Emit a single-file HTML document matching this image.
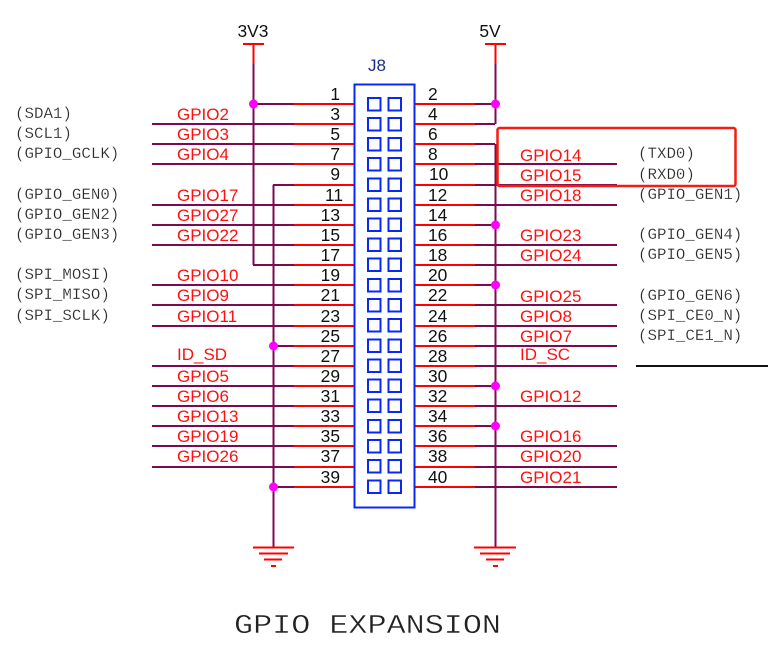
<!DOCTYPE html>
<html><head><meta charset="utf-8"><style>
html,body{margin:0;padding:0;background:#fff}
svg{display:block}
.g{font:17px "Liberation Sans",sans-serif;fill:#ff1010}
.n{font:17.4px "Liberation Sans",sans-serif;fill:#111}
.m{font:15.8px "Liberation Mono",monospace;fill:#2a2a2a;stroke:#fff;stroke-width:.2px}
.e{text-anchor:end}
</style></head><body>
<svg width="768" height="652" viewBox="0 0 768 652" xmlns="http://www.w3.org/2000/svg">
<rect width="768" height="652" fill="#fff"/>
<g fill="none" stroke-width="2">
<!-- red stubs -->
<path stroke="#ff0000" d="M294 104H354M294 124H354M294 144H354M294 164H354M294 185H354M294 205H354M294 225H354M294 245H354M294 265H354M294 285H354M294 305H354M294 326H354M294 346H354M294 366H354M294 386H354M294 406H354M294 426H354M294 446H354M294 467H354M294 487H354"/>
<path stroke="#ff0000" d="M414 104H475M414 124H475M414 144H475M414 164H475M414 185H475M414 205H475M414 225H475M414 245H475M414 265H475M414 285H475M414 305H475M414 326H475M414 346H475M414 366H475M414 386H475M414 406H475M414 426H475M414 446H475M414 467H475M414 487H475"/>
<!-- maroon wires -->
<path stroke="#7c0a50" d="M152 124H294M152 144H294M152 164H294M152 205H294M152 225H294M152 245H294M152 285H294M152 305H294M152 326H294M152 366H294M152 386H294M152 406H294M152 426H294M152 446H294M152 467H294"/>
<path stroke="#7c0a50" d="M253 104H294M273 185H294M253 265H294M273 346H294M273 487H294"/>
<path stroke="#7c0a50" d="M475 164H617M475 185H617M475 205H617M475 245H617M475 265H617M475 305H617M475 326H617M475 346H617M475 366H617M475 406H617M475 446H617M475 467H617M475 487H617"/>
<path stroke="#7c0a50" d="M475 104H495M475 124H495M475 144H495M475 225H495M475 285H495M475 386H495M475 426H495"/>
<!-- rails -->
<path stroke="#7c0a50" d="M253.5 64V265M273.5 185V547M495.5 64V124M495.5 144V547"/>
<path stroke="#ff0000" d="M253.5 44V64M495.5 44V64M243 44H264M485 44H506"/>
<!-- grounds -->
<path stroke="#ff0000" d="M253 547.5H294M259 553.5H288M264 559.5H282M271 566H276M474 547.5H516M480 553.5H510M486 559.5H504M493 566H498"/>
<!-- black line -->
<path stroke="#111" d="M636 366H768"/>
<!-- connector -->
<rect x="354.5" y="84.5" width="60" height="423" stroke="#0a28f0"/>
<g stroke="#0a28f0">
<rect x="368" y="98" width="12.5" height="12.5"/><rect x="388.5" y="98" width="12.5" height="12.5"/>
<rect x="368" y="118" width="12.5" height="12.5"/><rect x="388.5" y="118" width="12.5" height="12.5"/>
<rect x="368" y="138" width="12.5" height="12.5"/><rect x="388.5" y="138" width="12.5" height="12.5"/>
<rect x="368" y="158" width="12.5" height="12.5"/><rect x="388.5" y="158" width="12.5" height="12.5"/>
<rect x="368" y="178.500" width="12.5" height="12.5"/><rect x="388.5" y="178.500" width="12.5" height="12.5"/>
<rect x="368" y="198.500" width="12.5" height="12.5"/><rect x="388.5" y="198.500" width="12.5" height="12.5"/>
<rect x="368" y="218.500" width="12.5" height="12.5"/><rect x="388.5" y="218.500" width="12.5" height="12.5"/>
<rect x="368" y="238.500" width="12.5" height="12.5"/><rect x="388.5" y="238.500" width="12.5" height="12.5"/>
<rect x="368" y="258.500" width="12.5" height="12.5"/><rect x="388.5" y="258.500" width="12.5" height="12.5"/>
<rect x="368" y="279" width="12.5" height="12.5"/><rect x="388.5" y="279" width="12.5" height="12.5"/>
<rect x="368" y="299" width="12.5" height="12.5"/><rect x="388.5" y="299" width="12.5" height="12.5"/>
<rect x="368" y="319" width="12.5" height="12.5"/><rect x="388.5" y="319" width="12.5" height="12.5"/>
<rect x="368" y="339.500" width="12.5" height="12.5"/><rect x="388.5" y="339.500" width="12.5" height="12.5"/>
<rect x="368" y="359.500" width="12.5" height="12.5"/><rect x="388.5" y="359.500" width="12.5" height="12.5"/>
<rect x="368" y="379.500" width="12.5" height="12.5"/><rect x="388.5" y="379.500" width="12.5" height="12.5"/>
<rect x="368" y="399.500" width="12.5" height="12.5"/><rect x="388.5" y="399.500" width="12.5" height="12.5"/>
<rect x="368" y="420" width="12.5" height="12.5"/><rect x="388.5" y="420" width="12.5" height="12.5"/>
<rect x="368" y="440" width="12.5" height="12.5"/><rect x="388.5" y="440" width="12.5" height="12.5"/>
<rect x="368" y="460" width="12.5" height="12.5"/><rect x="388.5" y="460" width="12.5" height="12.5"/>
<rect x="368" y="480.500" width="12.5" height="12.5"/><rect x="388.5" y="480.500" width="12.5" height="12.5"/>
</g>
</g>
<g fill="#ff00ff">
<circle cx="253.500" cy="104" r="4.500"/><circle cx="495.500" cy="104" r="4.500"/><circle cx="495.500" cy="225" r="4.500"/><circle cx="495.500" cy="285" r="4.500"/><circle cx="495.500" cy="386" r="4.500"/><circle cx="495.500" cy="426" r="4.500"/><circle cx="273.500" cy="346" r="4.500"/><circle cx="273.500" cy="487" r="4.500"/>
</g>
<!-- power labels -->
<text class="n" x="253" y="37" text-anchor="middle">3V3</text>
<text class="n" x="490" y="37" text-anchor="middle">5V</text>
<text x="368" y="71" style="font:17px 'Liberation Sans',sans-serif;fill:#1c2a8c">J8</text>
<!-- odd pin numbers -->
<g class="n e">
<text x="340" y="100">1</text><text x="340" y="120">3</text><text x="340" y="140">5</text><text x="340" y="160">7</text><text x="340" y="180">9</text><text x="343" y="201">11</text><text x="340" y="221">13</text><text x="340" y="241">15</text><text x="340" y="261">17</text><text x="340" y="281">19</text><text x="340" y="301">21</text><text x="340" y="322">23</text><text x="340" y="342">25</text><text x="340" y="362">27</text><text x="340" y="382">29</text><text x="340" y="402">31</text><text x="340" y="422">33</text><text x="340" y="442">35</text><text x="340" y="462">37</text><text x="340" y="483">39</text>
</g>
<!-- even pin numbers -->
<g class="n">
<text x="428" y="100">2</text><text x="428" y="120">4</text><text x="428" y="140">6</text><text x="428" y="160">8</text><text x="429" y="180">10</text><text x="428" y="201">12</text><text x="428" y="221">14</text><text x="428" y="241">16</text><text x="428" y="261">18</text><text x="428" y="281">20</text><text x="428" y="301">22</text><text x="428" y="322">24</text><text x="428" y="342">26</text><text x="428" y="362">28</text><text x="428" y="382">30</text><text x="428" y="402">32</text><text x="428" y="422">34</text><text x="428" y="442">36</text><text x="428" y="462">38</text><text x="428" y="483">40</text>
</g>
<!-- left GPIO labels -->
<g class="g">
<text x="177" y="120">GPIO2</text><text x="177" y="140">GPIO3</text><text x="177" y="160">GPIO4</text><text x="177" y="201">GPIO17</text><text x="177" y="221">GPIO27</text><text x="177" y="241">GPIO22</text><text x="177" y="281">GPIO10</text><text x="177" y="301">GPIO9</text><text x="177" y="322">GPIO11</text><text x="177" y="360">ID_SD</text><text x="177" y="382">GPIO5</text><text x="177" y="402">GPIO6</text><text x="177" y="422">GPIO13</text><text x="177" y="442">GPIO19</text><text x="177" y="462">GPIO26</text>
</g>
<!-- right GPIO labels -->
<g class="g">
<text x="520" y="161">GPIO14</text><text x="520" y="181">GPIO15</text><text x="520" y="201">GPIO18</text><text x="520" y="241">GPIO23</text><text x="520" y="261">GPIO24</text><text x="520" y="302">GPIO25</text><text x="520" y="322">GPIO8</text><text x="520" y="342">GPIO7</text><text x="520" y="360">ID_SC</text><text x="520" y="402">GPIO12</text><text x="520" y="442">GPIO16</text><text x="520" y="462">GPIO20</text><text x="520" y="483">GPIO21</text>
</g>
<!-- annotations -->
<g class="m">
<text x="15" y="118">(SDA1)</text><text x="15" y="138">(SCL1)</text><text x="15" y="158">(GPIO_GCLK)</text><text x="15" y="199">(GPIO_GEN0)</text><text x="15" y="219">(GPIO_GEN2)</text><text x="15" y="239">(GPIO_GEN3)</text><text x="15" y="279">(SPI_MOSI)</text><text x="15" y="299">(SPI_MISO)</text><text x="15" y="320">(SPI_SCLK)</text>
<text x="638" y="158">(TXD0)</text><text x="638" y="179">(RXD0)</text><text x="638" y="199">(GPIO_GEN1)</text><text x="638" y="239">(GPIO_GEN4)</text><text x="638" y="259">(GPIO_GEN5)</text><text x="638" y="300">(GPIO_GEN6)</text><text x="638" y="320">(SPI_CE0_N)</text><text x="638" y="340">(SPI_CE1_N)</text>
</g>
<text x="234" y="633" textLength="267" lengthAdjust="spacingAndGlyphs" style="font:27px 'Liberation Mono',monospace;fill:#222;stroke:#fff;stroke-width:.4px">GPIO EXPANSION</text>
<rect x="497.500" y="128" width="238" height="58" rx="2" fill="none" stroke="#f01e14" stroke-width="2.500"/>
</svg>
</body></html>
